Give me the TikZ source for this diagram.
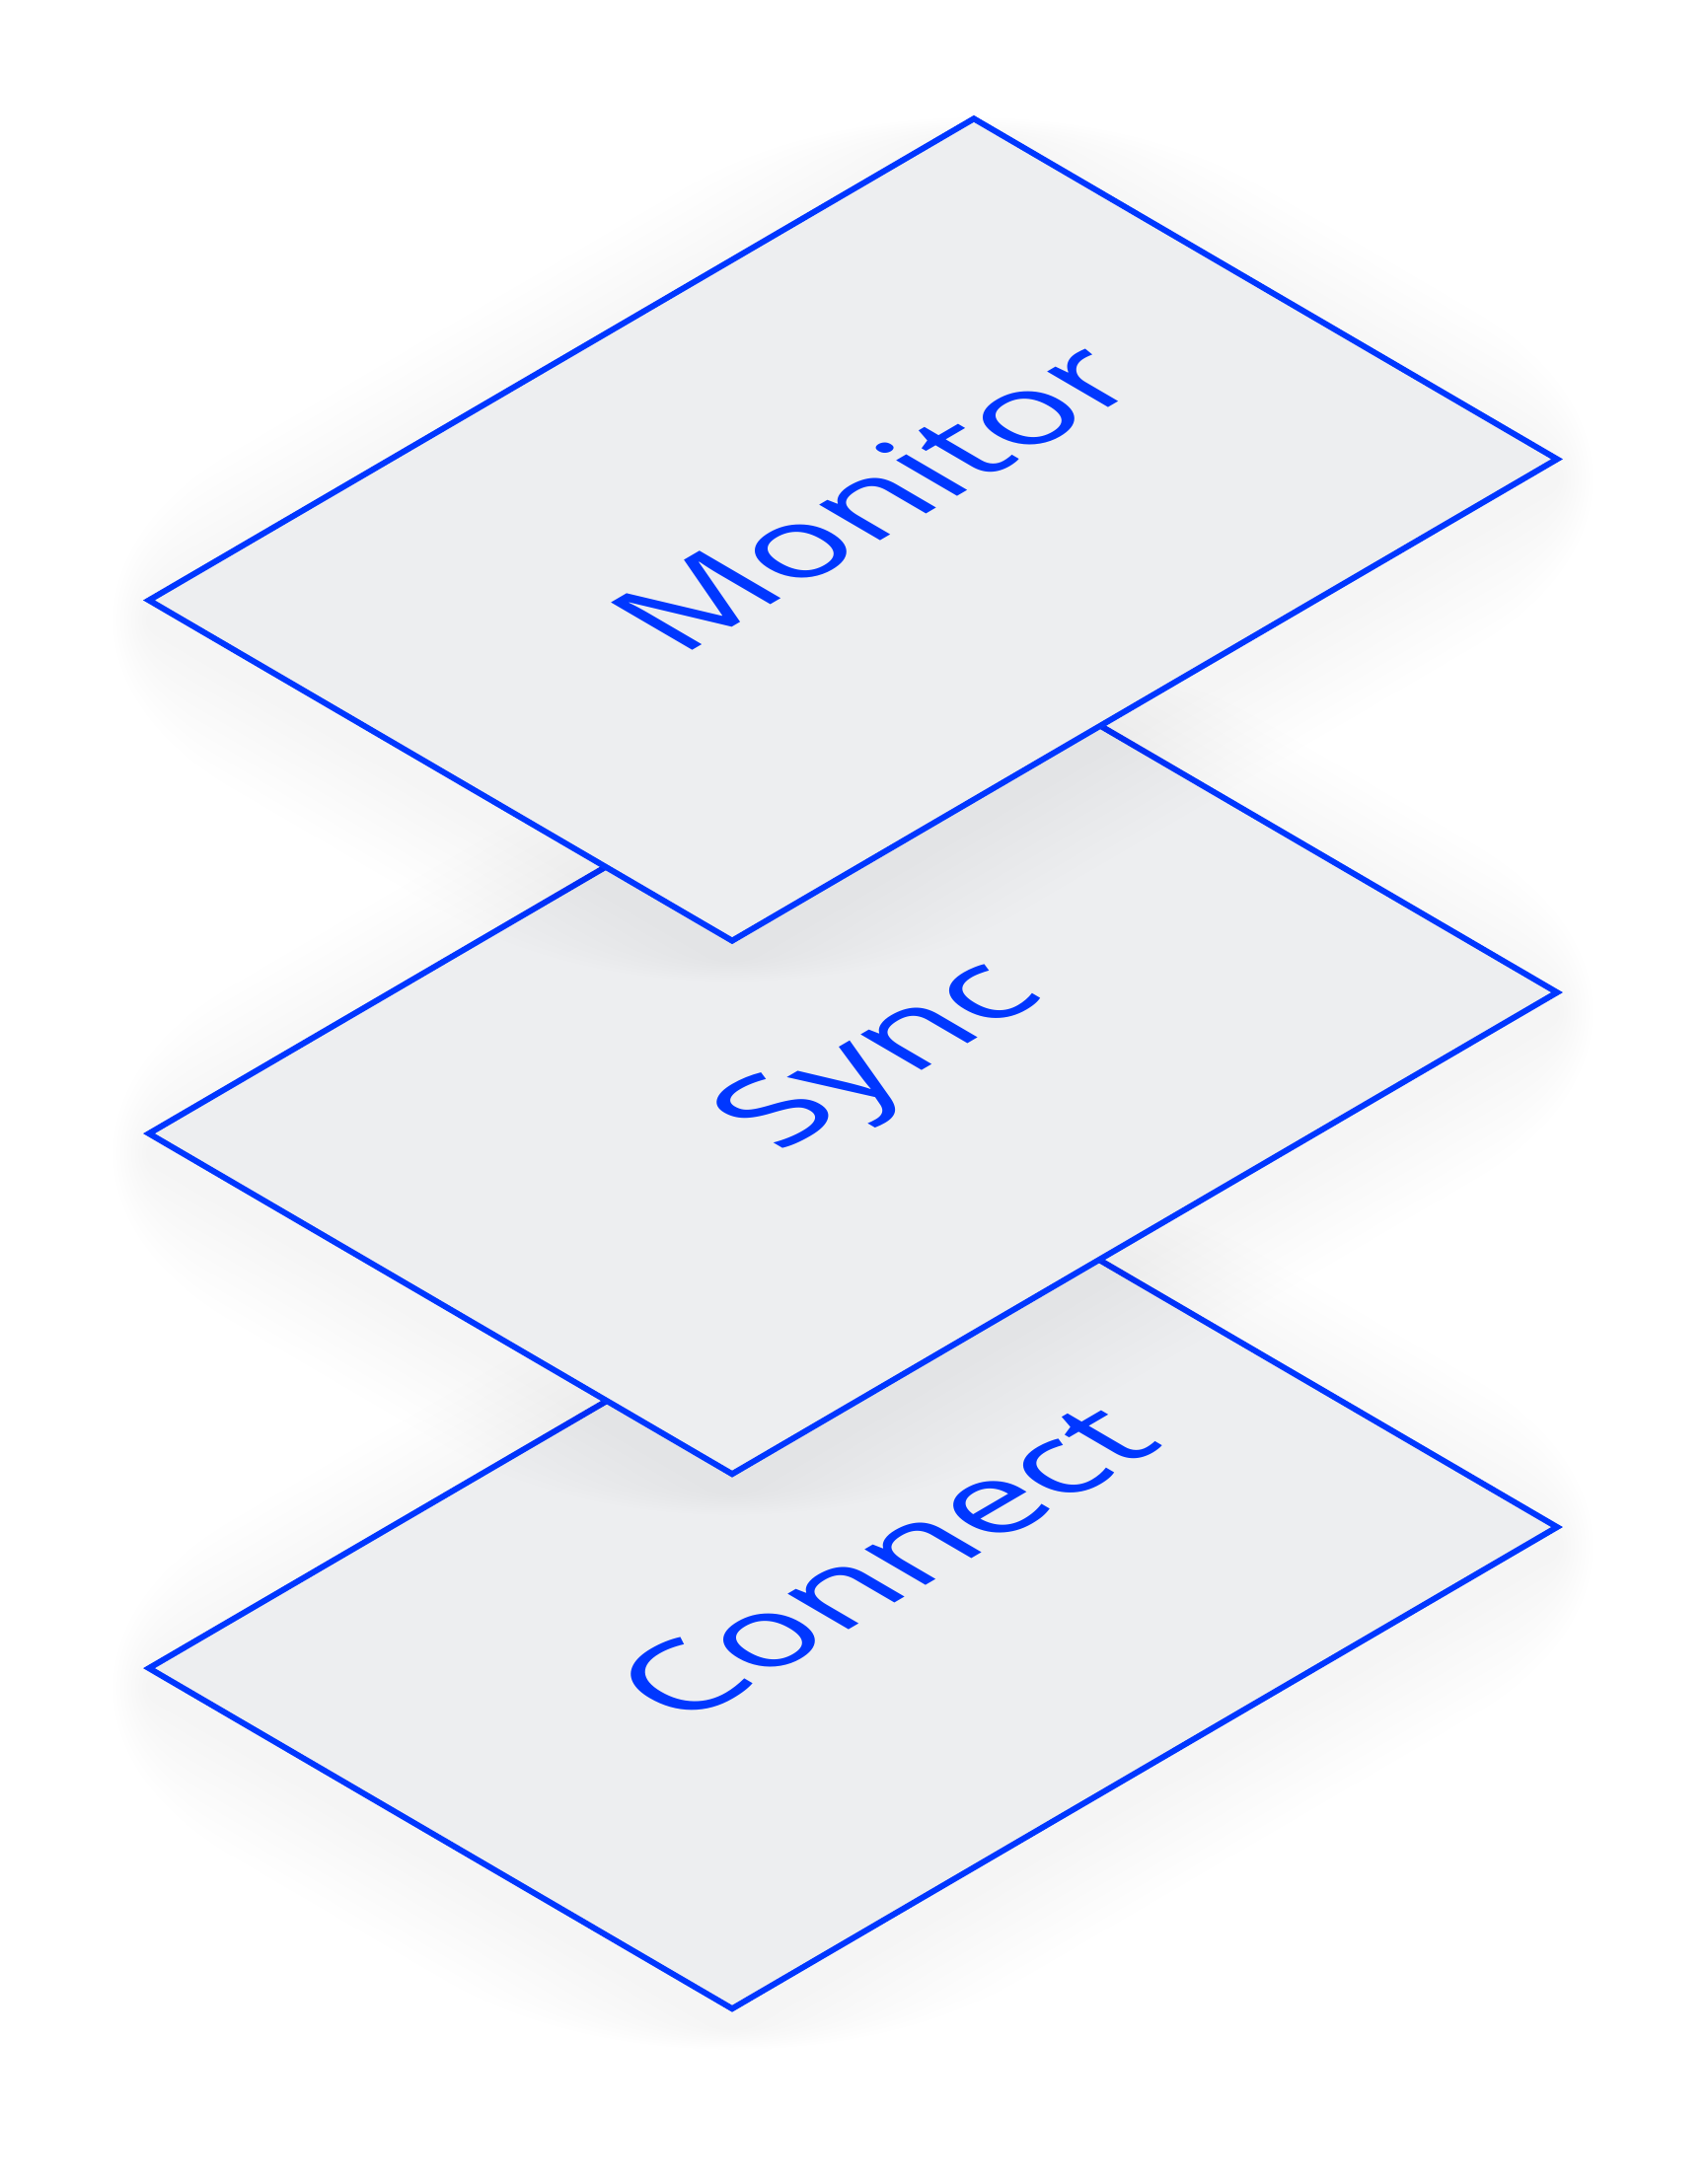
\documentclass[tikz,border=0pt]{standalone}
\usepackage{fontspec}
\setmainfont{Open Sans}
\newfontfamily\lyfont[FakeStretch=1.1]{Open Sans}
\usetikzlibrary{positioning}
\definecolor{lyblue}{RGB}{0,55,255}
\definecolor{lylight}{RGB}{237,238,240}
\tikzset{
  lyiso/.style={cm={0.8636,0.5043,-0.8636,0.5043,(0,0)}},
  lyplane/.style={draw=lyblue, line width=1.7pt, fill=lylight, minimum width=9.675cm, minimum height=6.84cm, inner sep=0pt, outer sep=0pt, transform shape},
  lylabel/.style={text=lyblue, font=\lyfont\fontsize{38}{38}\selectfont, anchor=base west, inner sep=0pt, transform shape},
  lyshadow/.style={fill=black, opacity=.004}
}

\begin{document}
\begin{tikzpicture}[x=0.01cm, y=0.01cm]
  \useasboundingbox (0,0) rectangle (1729,2214);
  \begin{scope}[shift={(864.5,594.4)}, lyiso]
    \foreach \e in {12,24,...,120}
      \fill[lyshadow, rounded corners=\e*0.8pt] (-484-\e-20,-342-\e-20) rectangle (484+\e-20,342+\e-20);
    \node[lyplane] (connect) {};
    \node[lylabel] (connectlbl) at (-230,-30) {Connect};
  \end{scope}
  \begin{scope}[shift={(864.5,1136.4)}, lyiso]
    \foreach \e in {12,24,...,120}
      \fill[lyshadow, rounded corners=\e*0.8pt] (-484-\e-20,-342-\e-20) rectangle (484+\e-20,342+\e-20);
    \node[lyplane] (sync) {};
    \node[lylabel] (synclbl) at (-135,-48) {Sync};
  \end{scope}
  \begin{scope}[shift={(864.5,1677)}, lyiso]
    \foreach \e in {12,24,...,120}
      \fill[lyshadow, rounded corners=\e*0.8pt] (-484-\e-20,-342-\e-20) rectangle (484+\e-20,342+\e-20);
    \node[lyplane] (monitor) {};
    \node[lylabel] (monitorlbl) at (-230,-27) {Monitor};
  \end{scope}
\end{tikzpicture}
\end{document}
